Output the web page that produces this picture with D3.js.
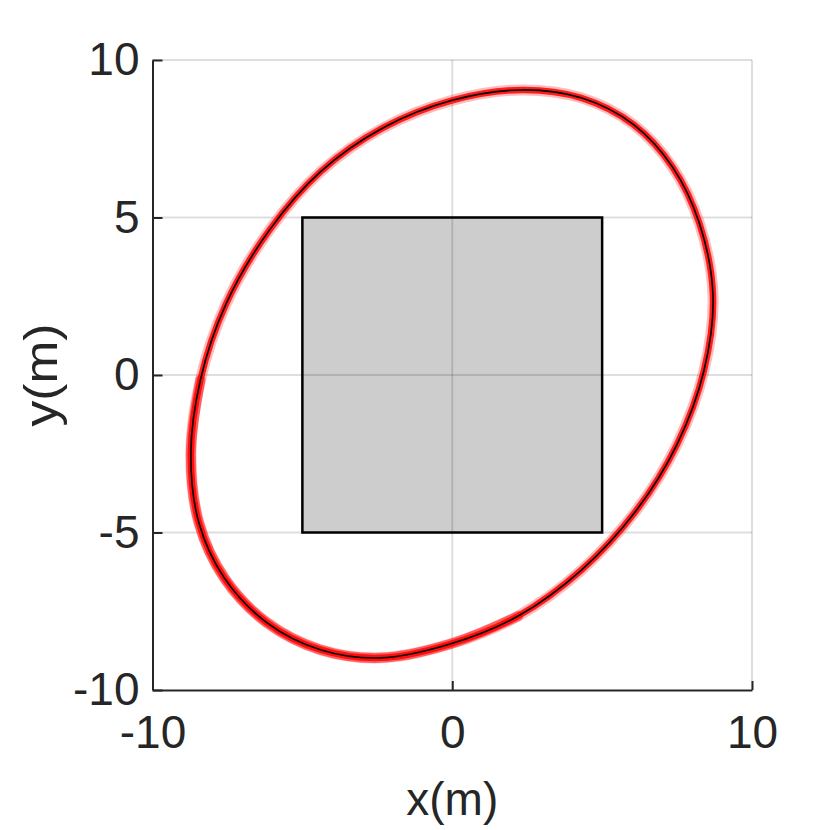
<!DOCTYPE html>
<html>
<head>
<meta charset="utf-8">
<script src="https://cdn.jsdelivr.net/npm/d3@7"></script>
<style>
  body { margin: 0; background: #fff; }
  text { font-family: 'Liberation Sans', Arial, sans-serif; fill: #262626; }
</style>
</head>
<body>
<div id="draw"></div>
<script>
// trajectory (x, y in metres), clockwise starting at the right side
const trackX = [8.7, 8.25, 7.35, 6.05, 4.3, 2.3, 0.0, -2.3, -4.4, -6.1, -7.55, -8.4, -8.72, -8.45, -7.6, -6.2, -4.4, -2.4, -0.1, 2.2, 4.3, 6.1, 7.5, 8.4]
const trackY = [2.5, 4.8, 6.6, 7.95, 8.8, 9.05, 8.72, 7.85, 6.45, 4.6, 2.25, -0.15, -2.5, -4.7, -6.45, -7.85, -8.72, -8.98, -8.55, -7.65, -6.2, -4.35, -2.2, 0.15]

// stretch of the run where the estimates scatter most (indices into the track)
const wideRun = [11, 19]

// obstacle square corners
const boxX = [-5, 5]
const boxY = [-5, 5]

const xTicks = [-10, 0, 10]
const yTicks = [-10, -5, 0, 5, 10]
const xGrid = [0, 10]
const yGrid = [-5, 0, 5, 10]

const margin = { top: 60, right: 78, bottom: 140, left: 152.5 }
const width = 830 - margin.left - margin.right
const height = 830 - margin.top - margin.bottom

const svg = d3.select('#draw')
  .append('svg')
  .attr('width', 830)
  .attr('height', 830)
  .append('g')
  .attr('transform', 'translate(' + margin.left + ',' + margin.top + ')')

const xScale = d3.scaleLinear().domain([-10, 10]).range([0, width])
const yScale = d3.scaleLinear().domain([-10, 10]).range([height, 0])

// grey square
svg.append('rect')
  .attr('x', xScale(boxX[0]))
  .attr('y', yScale(boxY[1]))
  .attr('width', xScale(boxX[1]) - xScale(boxX[0]))
  .attr('height', yScale(boxY[0]) - yScale(boxY[1]))
  .style('fill', '#cdcdcd')
  .style('stroke', '#000')
  .style('stroke-width', 2.5)

// grid
svg.selectAll('.gx')
  .data(xGrid)
  .enter().append('line')
  .attr('x1', d => xScale(d)).attr('x2', d => xScale(d))
  .attr('y1', 0).attr('y2', height)
  .style('stroke', '#000').style('stroke-opacity', 0.13).style('stroke-width', 2)

svg.selectAll('.gy')
  .data(yGrid)
  .enter().append('line')
  .attr('y1', d => yScale(d)).attr('y2', d => yScale(d))
  .attr('x1', 0).attr('x2', width)
  .style('stroke', '#000').style('stroke-opacity', 0.13).style('stroke-width', 2)

// trajectory
const track = trackX.map((x, i) => [x, trackY[i]])
const line = d3.line()
  .x(d => xScale(d[0]))
  .y(d => yScale(d[1]))
  .curve(d3.curveCatmullRomClosed)
const openLine = d3.line()
  .x(d => xScale(d[0]))
  .y(d => yScale(d[1]))
  .curve(d3.curveCatmullRom)

svg.append('path')
  .attr('d', line(track))
  .style('fill', 'none')
  .style('stroke', '#ff2020')
  .style('stroke-opacity', 0.3)
  .style('stroke-width', 11)

svg.append('path')
  .attr('d', openLine(track.slice(wideRun[0], wideRun[1] + 1)))
  .style('fill', 'none')
  .style('stroke', '#ff0000')
  .style('stroke-opacity', 0.5)
  .style('stroke-linecap', 'round')
  .style('stroke-width', 10)

svg.append('path')
  .attr('d', line(track))
  .style('fill', 'none')
  .style('stroke', '#ff0000')
  .style('stroke-opacity', 0.85)
  .style('stroke-width', 6.5)

svg.append('path')
  .attr('d', line(track))
  .style('fill', 'none')
  .style('stroke', '#000')
  .style('stroke-width', 1.6)

// axes
const xAxis = d3.axisBottom(xScale).tickValues(xTicks).tickFormat(d => String(d))
  .tickSizeInner(-9).tickSizeOuter(0).tickPadding(25)
const yAxis = d3.axisLeft(yScale).tickValues(yTicks).tickFormat(d => String(d))
  .tickSizeInner(-10).tickSizeOuter(0).tickPadding(13)

const gx = svg.append('g')
  .attr('transform', 'translate(0,' + height + ')')
  .call(xAxis)
const gy = svg.append('g').call(yAxis)

;[gx, gy].forEach(g => {
  g.select('.domain').style('stroke', '#262626').style('stroke-width', 2)
  g.selectAll('.tick line').style('stroke', '#262626').style('stroke-width', 2)
  g.selectAll('.tick text').style('font-size', '46px').style('fill', '#262626')
    .style('font-family', "'Liberation Sans', Arial, sans-serif")
})

// axis labels
svg.append('text')
  .attr('x', width / 2)
  .attr('y', 815 - margin.top)
  .style('text-anchor', 'middle')
  .style('font-size', '46px')
  .text('x(m)')

svg.append('text')
  .attr('transform', 'translate(' + (57 - margin.left) + ',' + (375 - margin.top) + ') rotate(-90) scale(1.12,1)')
  .style('text-anchor', 'middle')
  .style('font-size', '46px')
  .text('y(m)')
</script>
</body>
</html>
